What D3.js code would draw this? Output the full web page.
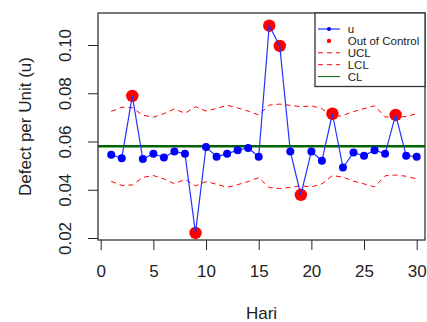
<!DOCTYPE html>
<html>
<head>
    <meta charset="utf-8">
    <title>u Chart</title>
    <style>
    body { margin: 0; background: #fff; }
    svg { display: block; font-family: "Liberation Sans", Arial, sans-serif; }
    </style>
</head>
<body>
<svg id="chart"></svg>
<script src="https://d3js.org/d3.v7.min.js"></script>
<script>

    // days (Hari) and defect per unit
    const hari = [1, 2, 3, 4, 5, 6, 7, 8, 9, 10, 11, 12, 13, 14, 15,
                  16, 17, 18, 19, 20, 21, 22, 23, 24, 25, 26, 27, 28, 29, 30];
    const u = [0.0545, 0.0531, 0.0789, 0.0527, 0.0549, 0.0534, 0.0559, 0.0549, 0.0221, 0.0577,
               0.0537, 0.0549, 0.0564, 0.0573, 0.0537, 0.1080, 0.0996, 0.0559, 0.0379, 0.0559,
               0.0520, 0.0715, 0.0492, 0.0554, 0.0541, 0.0564, 0.0549, 0.0710, 0.0541, 0.0537];
    const ucl = [0.0725, 0.0742, 0.0740, 0.0709, 0.0701, 0.0715, 0.0735, 0.0717, 0.0744, 0.0726,
                 0.0737, 0.0750, 0.0739, 0.0726, 0.0710, 0.0751, 0.0755, 0.0750, 0.0744, 0.0748,
                 0.0736, 0.0701, 0.0708, 0.0724, 0.0736, 0.0748, 0.0702, 0.0699, 0.0704, 0.0715];
    const lcl = [0.0435, 0.0418, 0.0420, 0.0451, 0.0459, 0.0445, 0.0425, 0.0443, 0.0416, 0.0434,
                 0.0423, 0.0410, 0.0421, 0.0434, 0.0450, 0.0409, 0.0405, 0.0410, 0.0416, 0.0412,
                 0.0424, 0.0459, 0.0452, 0.0436, 0.0424, 0.0412, 0.0458, 0.0461, 0.0456, 0.0445];
    const cl = 0.058;

    const xTicks = [0, 5, 10, 15, 20, 25, 30];
    const yTicks = [0.02, 0.04, 0.06, 0.08, 0.10];
    const legendLabels = ["u", "Out of Control", "UCL", "LCL", "CL"];

    const svgWidth = 427, svgHeight = 322;
    const box = {left: 98, top: 13, right: 425, bottom: 240};

    const svg = d3.select("#chart")
        .attr("width", svgWidth)
        .attr("height", svgHeight);

    const x = d3.scaleLinear().domain([0, 30]).range([100.7, 416.7]);
    const y = d3.scaleLinear().domain([0.02, 0.10]).range([238, 45]);

    const data = hari.map(function(d, i) {
        return {day: d, u: u[i], ucl: ucl[i], lcl: lcl[i], out: u[i] > ucl[i] || u[i] < lcl[i]};
    });

    // axes
    const xAxis = svg.append("g")
        .attr("transform", "translate(0," + box.bottom + ")")
        .call(d3.axisBottom(x).tickValues(xTicks).tickSize(10).tickPadding(15).tickFormat(d3.format("d")));
    xAxis.select(".domain").remove();
    xAxis.selectAll("line").attr("stroke", "#222");
    xAxis.selectAll("text").attr("font-size", 17).attr("fill", "#222");

    const yAxis = svg.append("g")
        .attr("transform", "translate(" + box.left + ",0)")
        .call(d3.axisLeft(y).tickValues(yTicks).tickSize(10).tickFormat(d3.format(".2f")));
    yAxis.select(".domain").remove();
    yAxis.selectAll("line").attr("stroke", "#222");
    yAxis.selectAll("text")
        .attr("font-size", 17)
        .attr("fill", "#222")
        .attr("transform", "rotate(-90)")
        .attr("x", 0)
        .attr("y", -27)
        .attr("dy", 0)
        .attr("text-anchor", "middle");

    svg.append("text")
        .attr("x", (box.left + box.right) / 2)
        .attr("y", 319)
        .attr("text-anchor", "middle")
        .attr("font-size", 17)
        .attr("fill", "#222")
        .text("Hari");

    svg.append("text")
        .attr("transform", "translate(31," + ((box.top + box.bottom) / 2) + ") rotate(-90)")
        .attr("text-anchor", "middle")
        .attr("font-size", 17)
        .attr("fill", "#222")
        .text("Defect per Unit (u)");

    // limits
    const limitLine = function(key) {
        return d3.line()
            .x(function(d) { return x(d.day); })
            .y(function(d) { return y(d[key]); });
    };

    ["ucl", "lcl"].forEach(function(key) {
        svg.append("path")
            .datum(data)
            .attr("fill", "none")
            .attr("stroke", "#ff0000")
            .attr("stroke-width", 1)
            .attr("stroke-dasharray", "5,4")
            .attr("d", limitLine(key));
    });

    svg.append("line")
        .attr("x1", box.left)
        .attr("x2", box.right)
        .attr("y1", y(cl))
        .attr("y2", y(cl))
        .attr("stroke", "#006400")
        .attr("stroke-width", 2.5);

    // out of control points
    svg.selectAll(".out")
        .data(data.filter(function(d) { return d.out; }))
        .enter().append("circle")
        .attr("class", "out")
        .attr("cx", function(d) { return x(d.day); })
        .attr("cy", function(d) { return y(d.u); })
        .attr("r", 6.2)
        .attr("fill", "#ff0000");

    svg.append("path")
        .datum(data)
        .attr("fill", "none")
        .attr("stroke", "#2233ff")
        .attr("stroke-width", 1.2)
        .attr("d", limitLine("u"));

    svg.selectAll(".pt")
        .data(data.filter(function(d) { return !d.out; }))
        .enter().append("circle")
        .attr("class", "pt")
        .attr("cx", function(d) { return x(d.day); })
        .attr("cy", function(d) { return y(d.u); })
        .attr("r", 4)
        .attr("fill", "#0000ff");

    // plot frame
    svg.append("rect")
        .attr("x", box.left)
        .attr("y", box.top)
        .attr("width", box.right - box.left)
        .attr("height", box.bottom - box.top)
        .attr("fill", "none")
        .attr("stroke", "#333")
        .attr("stroke-width", 1.3);

    // legend
    const lg = svg.append("g");
    lg.append("rect")
        .attr("x", 315)
        .attr("y", box.top)
        .attr("width", box.right - 315)
        .attr("height", 73.5)
        .attr("fill", "#fff")
        .attr("stroke", "#333")
        .attr("stroke-width", 1.3);

    legendLabels.forEach(function(label, i) {
        const ly = 29 + i * 11.9;
        if (label === "u") {
            lg.append("line").attr("x1", 318).attr("x2", 340).attr("y1", ly).attr("y2", ly)
                .attr("stroke", "#2233ff").attr("stroke-width", 1.2);
            lg.append("circle").attr("cx", 329).attr("cy", ly).attr("r", 2).attr("fill", "#0000ff");
        } else if (label === "Out of Control") {
            lg.append("circle").attr("cx", 329).attr("cy", ly).attr("r", 2.2).attr("fill", "#ff0000");
        } else if (label === "CL") {
            lg.append("line").attr("x1", 318).attr("x2", 340).attr("y1", ly).attr("y2", ly)
                .attr("stroke", "#006400").attr("stroke-width", 1);
        } else {
            lg.append("line").attr("x1", 318).attr("x2", 340).attr("y1", ly).attr("y2", ly)
                .attr("stroke", "#ff0000").attr("stroke-width", 1).attr("stroke-dasharray", "5,4");
        }
        lg.append("text")
            .attr("x", 347.7)
            .attr("y", ly)
            .attr("dy", "0.35em")
            .attr("font-size", 11.5)
            .attr("fill", "#222")
            .text(label);
    });

</script>
</body>
</html>
